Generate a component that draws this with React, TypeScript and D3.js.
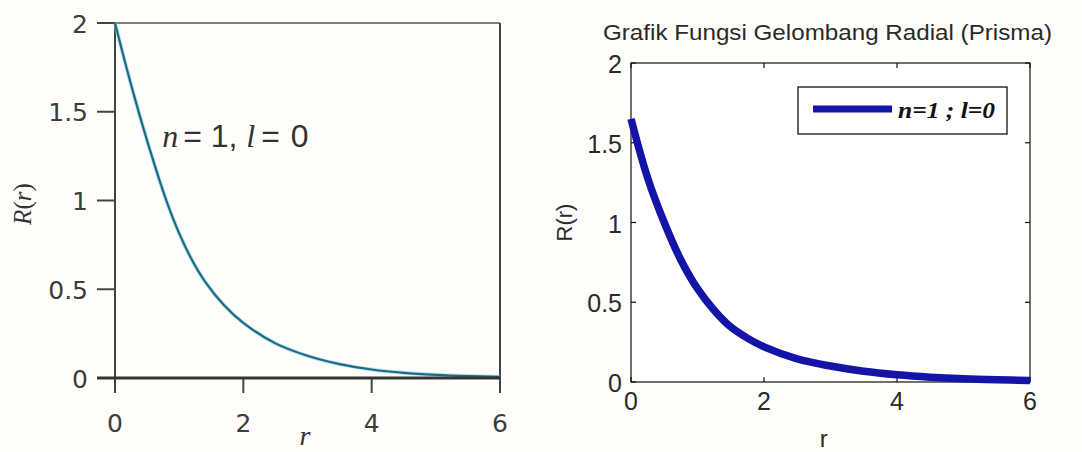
import React from 'react';
import * as d3 from 'd3';

// ---- data ----
const leftR = [0, 0.2, 0.4, 0.6, 0.8, 1.0, 1.2, 1.4, 1.7, 2.0, 2.5, 3.0, 3.5, 4.0, 4.5, 5.0, 5.5, 6.0];
const leftVal = [2.0, 1.72, 1.46, 1.22, 1.0, 0.815, 0.665, 0.545, 0.41, 0.31, 0.195, 0.125, 0.078, 0.048, 0.029, 0.018, 0.011, 0.007];
const rightR = [0, 0.25, 0.5, 0.75, 1.0, 1.25, 1.5, 1.75, 2.0, 2.5, 3.0, 3.5, 4.0, 4.5, 5.0, 5.5, 6.0];
const rightVal = [1.65, 1.28, 1.0, 0.765, 0.585, 0.45, 0.345, 0.275, 0.22, 0.145, 0.1, 0.067, 0.045, 0.03, 0.02, 0.014, 0.01];
const xTicks = [0, 2, 4, 6];
const xTickLabels = ['0', '2', '4', '6'];
const yTicks = [0, 0.5, 1, 1.5, 2];
const yTickLabels = ['0', '0.5', '1', '1.5', '2'];
const rightTitle = 'Grafik Fungsi Gelombang Radial (Prisma)';
const legendLabel = 'n=1 ; l=0';

const W = 1082;
const H = 452;

export default function App() {
  // left panel scales
  const lx = d3.scaleLinear().domain([0, 6]).range([115, 500]);
  const ly = d3.scaleLinear().domain([0, 2]).range([378, 23]);
  // right panel scales
  const rx = d3.scaleLinear().domain([0, 6]).range([631, 1030]);
  const ry = d3.scaleLinear().domain([0, 2]).range([382, 63]);

  const leftLine = d3
    .line<number>()
    .x((_, i) => lx(leftR[i]))
    .y((d) => ly(d))
    .curve(d3.curveCatmullRom.alpha(0.5));
  const rightLine = d3
    .line<number>()
    .x((_, i) => rx(rightR[i]))
    .y((d) => ry(d))
    .curve(d3.curveCatmullRom.alpha(0.5));

  const sansL = '"DejaVu Sans", "Open Sans", sans-serif';
  const serif = '"Liberation Serif", "DejaVu Serif", serif';
  const arial = '"Liberation Sans", Arial, sans-serif';

  const ax0 = lx(0), ax6 = lx(6), ay0 = ly(0), ay2 = ly(2);
  const bx0 = rx(0), bx6 = rx(6), by0 = ry(0), by2 = ry(2);

  return (
    <svg width={W} height={H} style={{ position: 'absolute', left: 0, top: 0, display: 'block' }}>
      <rect x={0} y={0} width={W} height={H} fill="#fffefa" />

      {/* ---------- LEFT PANEL ---------- */}
      <g>
        <line x1={ax0} x2={ax6} y1={ay2} y2={ay2} stroke="#555" strokeWidth={1.5} />
        <line x1={ax0} x2={ax0} y1={ay2} y2={ay0 + 15} stroke="#444" strokeWidth={2} />
        <line x1={ax6} x2={ax6} y1={ay2} y2={ay0 + 15} stroke="#444" strokeWidth={2} />
        {yTicks.map((t) => (
          <line key={'lyt' + t} x1={ax0 - 18} x2={ax0} y1={ly(t)} y2={ly(t)} stroke="#444" strokeWidth={2} />
        ))}
        {xTicks.map((t) => (
          <line key={'lxt' + t} x1={lx(t)} x2={lx(t)} y1={ay0} y2={ay0 + 15} stroke="#444" strokeWidth={2} />
        ))}
        <path d={leftLine(leftVal) || ''} fill="none" stroke="#8fd3ec" strokeWidth={4} opacity={0.6} />
        <path d={leftLine(leftVal) || ''} fill="none" stroke="#1f6a83" strokeWidth={2.2} />
        <line x1={ax0 - 18} x2={ax6} y1={ay0} y2={ay0} stroke="#333" strokeWidth={3} />
        {yTicks.map((t, i) => (
          <text key={'lyl' + t} x={ax0 - 27} y={ly(t) + 1} textAnchor="end" dominantBaseline="central"
            fontFamily={sansL} fontSize={25} fill="#3c3c3c">
            {yTickLabels[i]}
          </text>
        ))}
        {xTicks.map((t, i) => (
          <text key={'lxl' + t} x={lx(t)} y={432} textAnchor="middle" fontFamily={sansL} fontSize={25} fill="#3c3c3c">
            {xTickLabels[i]}
          </text>
        ))}
        <text x={lx(2.96)} y={445} textAnchor="middle" fontFamily={serif} fontStyle="italic" fontSize={28} fill="#333">
          r
        </text>
        <text transform={`translate(22, ${ly(0.98)}) rotate(-90)`} textAnchor="middle" dominantBaseline="central"
          fontFamily={serif} fontSize={25} fill="#333">
          <tspan fontStyle="italic">R</tspan>(<tspan fontStyle="italic">r</tspan>)
        </text>
        {/* annotation n = 1, l = 0 */}
        <g transform={`translate(${lx(0.75)}, ${ly(1.3)})`} fill="#333">
          <text x={-1} y={0} fontFamily={serif} fontStyle="italic" fontSize={32}>n</text>
          <text x={20} y={0} fontFamily={arial} fontSize={32}>=</text>
          <text x={47.5} y={0} fontFamily={arial} fontSize={32}>1,</text>
          <text x={83} y={0} fontFamily={serif} fontStyle="italic" fontSize={32}>l</text>
          <text x={98} y={0} fontFamily={arial} fontSize={32}>=</text>
          <text x={127.5} y={0} fontFamily={arial} fontSize={32}>0</text>
        </g>
      </g>

      {/* ---------- RIGHT PANEL ---------- */}
      <g>
        <text x={(bx0 + bx6) / 2 - 3} y={40} textAnchor="middle" fontFamily={arial} fontSize={22}
          textLength={449} lengthAdjust="spacingAndGlyphs" fill="#2a2a2a">
          {rightTitle}
        </text>
        <rect x={bx0} y={by2} width={bx6 - bx0} height={by0 - by2} fill="#fffffd" stroke="#111" strokeWidth={1.2} />
        {xTicks.map((t) => (
          <g key={'rxt' + t}>
            <line x1={rx(t)} x2={rx(t)} y1={by0} y2={by0 - 5} stroke="#111" strokeWidth={1.2} />
            <line x1={rx(t)} x2={rx(t)} y1={by2} y2={by2 + 5} stroke="#111" strokeWidth={1.2} />
          </g>
        ))}
        {yTicks.map((t) => (
          <g key={'ryt' + t}>
            <line x1={bx0} x2={bx0 + 5} y1={ry(t)} y2={ry(t)} stroke="#111" strokeWidth={1.2} />
            <line x1={bx6} x2={bx6 - 5} y1={ry(t)} y2={ry(t)} stroke="#111" strokeWidth={1.2} />
          </g>
        ))}
        <path d={rightLine(rightVal) || ''} fill="none" stroke="#1414a8" strokeWidth={7.5} strokeLinecap="butt" />
        {yTicks.map((t, i) => (
          <text key={'ryl' + t} x={bx0 - 9} y={ry(t) + 1} textAnchor="end" dominantBaseline="central"
            fontFamily={arial} fontSize={25} fill="#2a2a2a">
            {yTickLabels[i]}
          </text>
        ))}
        {xTicks.map((t, i) => (
          <text key={'rxl' + t} x={rx(t)} y={410} textAnchor="middle" fontFamily={arial} fontSize={25} fill="#2a2a2a">
            {xTickLabels[i]}
          </text>
        ))}
        <text x={rx(2.9)} y={447} textAnchor="middle" fontFamily={arial} fontSize={24} fill="#2a2a2a">r</text>
        <text transform={`translate(564, ${ry(1.0)}) rotate(-90)`} textAnchor="middle" dominantBaseline="central"
          fontFamily={arial} fontSize={22} fill="#2a2a2a">
          R(r)
        </text>
        {/* legend */}
        <rect x={798} y={87} width={209} height={47} fill="#fffffd" stroke="#111" strokeWidth={1.3} />
        <line x1={813} x2={892} y1={109} y2={109} stroke="#1414a8" strokeWidth={7} />
        <text x={898} y={118} fontFamily={serif} fontWeight="bold" fontStyle="italic" fontSize={23}
          textLength={97} lengthAdjust="spacingAndGlyphs" fill="#111">
          {legendLabel}
        </text>
      </g>
    </svg>
  );
}
